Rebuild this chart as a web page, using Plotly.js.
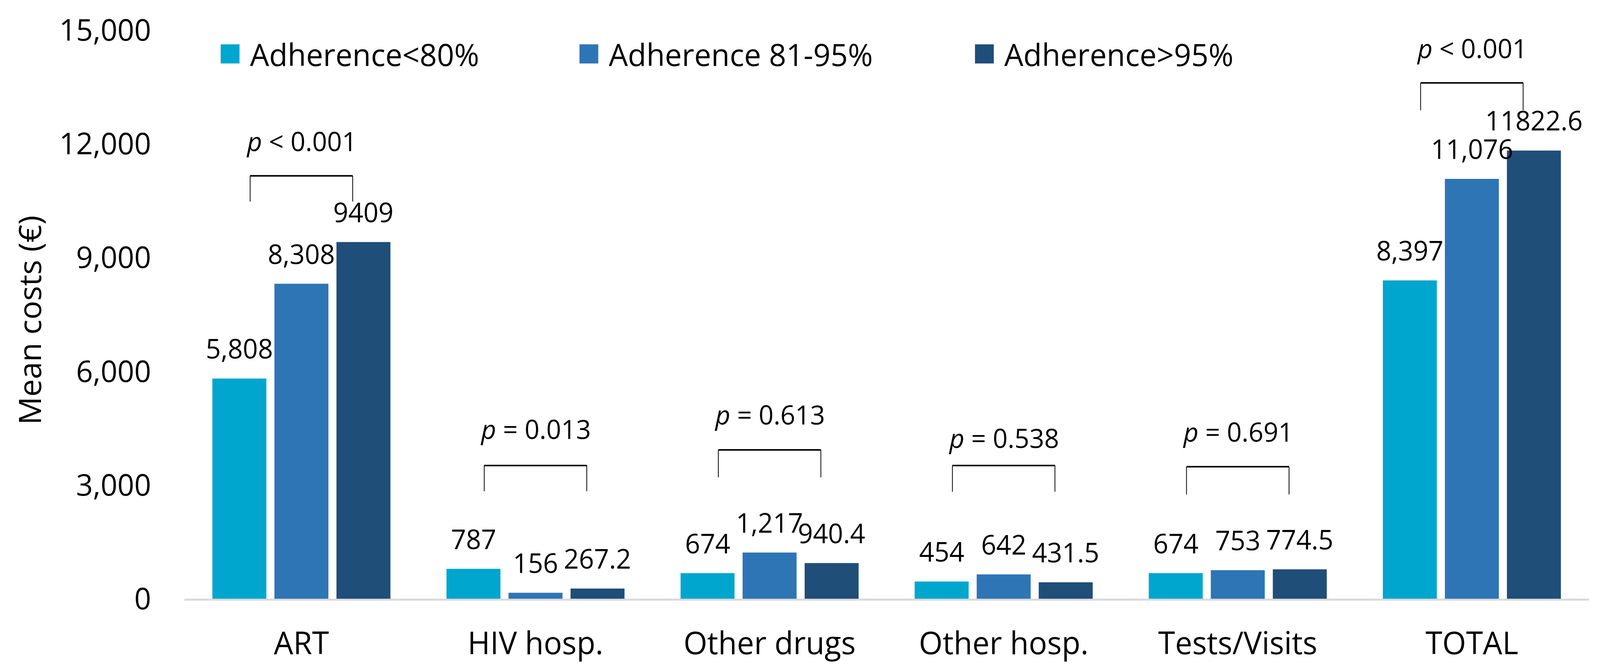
<!DOCTYPE html>
<html><head><meta charset="utf-8">
<script src="https://cdn.plot.ly/plotly-3.0.1.min.js"></script>
<style>html,body{margin:0;padding:0;background:#fff;overflow:hidden;}
#chart{transform-origin:0 0;}</style>
</head><body>
<div id="chart" style="width:4183px;height:1713px;"></div>
<script>
const categories = ['ART', 'HIV hosp.', 'Other drugs', 'Other hosp.', 'Tests/Visits', 'TOTAL'];
const seriesNames = ['Adherence&lt;80%', 'Adherence 81-95%', 'Adherence&gt;95%'];
const valuesLow = [5808, 787, 674, 454, 674, 8397];
const valuesMid = [8308, 156, 1217, 642, 753, 11076];
const valuesHigh = [9409, 267.2, 940.4, 431.5, 774.5, 11822.6];
const labelsLow = ['5,808', '787', '674', '454', '674', '8,397'];
const labelsMid = ['8,308', '156', '1,217', '642', '753', '11,076'];
const labelsHigh = ['9409', '267.2', '940.4', '431.5', '774.5', '11822.6'];
const pTexts = ['<i>p</i> &lt; 0.001', '<i>p</i> = 0.013', '<i>p</i> = 0.613', '<i>p</i> = 0.538', '<i>p</i> = 0.691', '<i>p</i> &lt; 0.001'];
const pTextY = [12082, 4491, 4872, 4254, 4419, 14533];
const bracketTop = [11155, 3512, 3924, 3512, 3481, 13606];
const bracketLeg = [10475, 2833, 3203, 2822, 2750, 12885];
const yTickVals = [0, 3000, 6000, 9000, 12000, 15000];

const colors = ['#00a6ce', '#2e75b6', '#1f4e79'];
const seriesValues = [valuesLow, valuesMid, valuesHigh];
const seriesLabels = [labelsLow, labelsMid, labelsHigh];
const legendWidths = [829, 925, null];
const font = '"Open Sans", "Noto Sans", sans-serif';

const W = 4183, H = 1713;
const margin = {l: 482, r: 29, t: 77, b: 180};
const bargap = 0.205, bargroupgap = 0.13;
const plotW = W - margin.l - margin.r;
const slotPx = plotW / categories.length * (1 - bargap) / seriesValues.length;

// fit the 4183-px design into the actual window width
const sx = Math.min(1, (window.innerWidth || W) / W);
const sy = Math.min(1, (window.innerHeight || H) / H);
document.getElementById('chart').style.transform = 'scale(' + sx + ',' + sy + ')';

const traces = seriesValues.map((vals, i) => {
  const t = {
    type: 'bar', name: seriesNames[i], x: categories, y: vals,
    marker: {color: colors[i], line: {width: 0}}, hoverinfo: 'skip'
  };
  if (legendWidths[i]) t.legendwidth = legendWidths[i];
  return t;
});

const shapes = [];
const annotations = [];
const halfW = 0.219;
categories.forEach((c, i) => {
  const thin = {color: '#000', width: 2};
  shapes.push({type: 'line', xref: 'x', yref: 'y', x0: i - halfW, x1: i - halfW, y0: bracketLeg[i], y1: bracketTop[i], line: thin});
  shapes.push({type: 'line', xref: 'x', yref: 'y', x0: i + halfW, x1: i + halfW, y0: bracketLeg[i], y1: bracketTop[i], line: thin});
  shapes.push({type: 'line', xref: 'x', yref: 'y', x0: i - halfW, x1: i + halfW, y0: bracketTop[i], y1: bracketTop[i], line: {color: '#000', width: 4}});
  annotations.push({xref: 'x', yref: 'y', x: c, y: pTextY[i], text: pTexts[i], showarrow: false,
    xanchor: 'center', yanchor: 'middle', font: {family: font, size: 68, color: '#000'}});
});
seriesValues.forEach((vals, s) => {
  vals.forEach((v, i) => {
    annotations.push({xref: 'x', yref: 'y', x: categories[i], y: v, text: seriesLabels[s][i],
      showarrow: false, xanchor: 'center', yanchor: 'bottom',
      xshift: (s - 1) * slotPx, yshift: 29,
      font: {family: font, size: 69, color: '#000'}});
  });
});
annotations.push({xref: 'paper', yref: 'paper', x: -0.1105, y: 0.49, xanchor: 'center', yanchor: 'middle',
  textangle: -90, text: 'Mean costs (€)', showarrow: false, font: {family: font, size: 80, color: '#000'}});

const layout = {
  width: W, height: H, margin: margin,
  paper_bgcolor: '#fff', plot_bgcolor: '#fff',
  barmode: 'group', bargap: bargap, bargroupgap: bargroupgap,
  showlegend: true,
  legend: {orientation: 'h', x: 0.0184, y: 0.958, xanchor: 'left', yanchor: 'middle',
    font: {family: font, size: 79, color: '#000'}, bgcolor: 'rgba(0,0,0,0)',
    itemwidth: 94, traceorder: 'normal'},
  xaxis: {type: 'category', showline: true, linecolor: '#d9d9d9', linewidth: 5, showgrid: false,
    zeroline: false, ticks: '', tickfont: {family: font, size: 80, color: '#000'}, ticklabelstandoff: 41,
    fixedrange: true},
  yaxis: {range: [0, 15000], tickvals: yTickVals, tickformat: ',d', showline: false, showgrid: false,
    zeroline: false, ticks: '', tickfont: {family: font, size: 77, color: '#000'}, ticklabelstandoff: 86,
    fixedrange: true},
  shapes: shapes, annotations: annotations
};

Plotly.newPlot('chart', traces, layout, {displayModeBar: false, staticPlot: true}).then(() => {
  document.querySelectorAll('.legend .legendpoints path').forEach(p => {
    p.setAttribute('transform', 'translate(52,0) scale(4.1)');
  });
});
</script>
</body></html>
